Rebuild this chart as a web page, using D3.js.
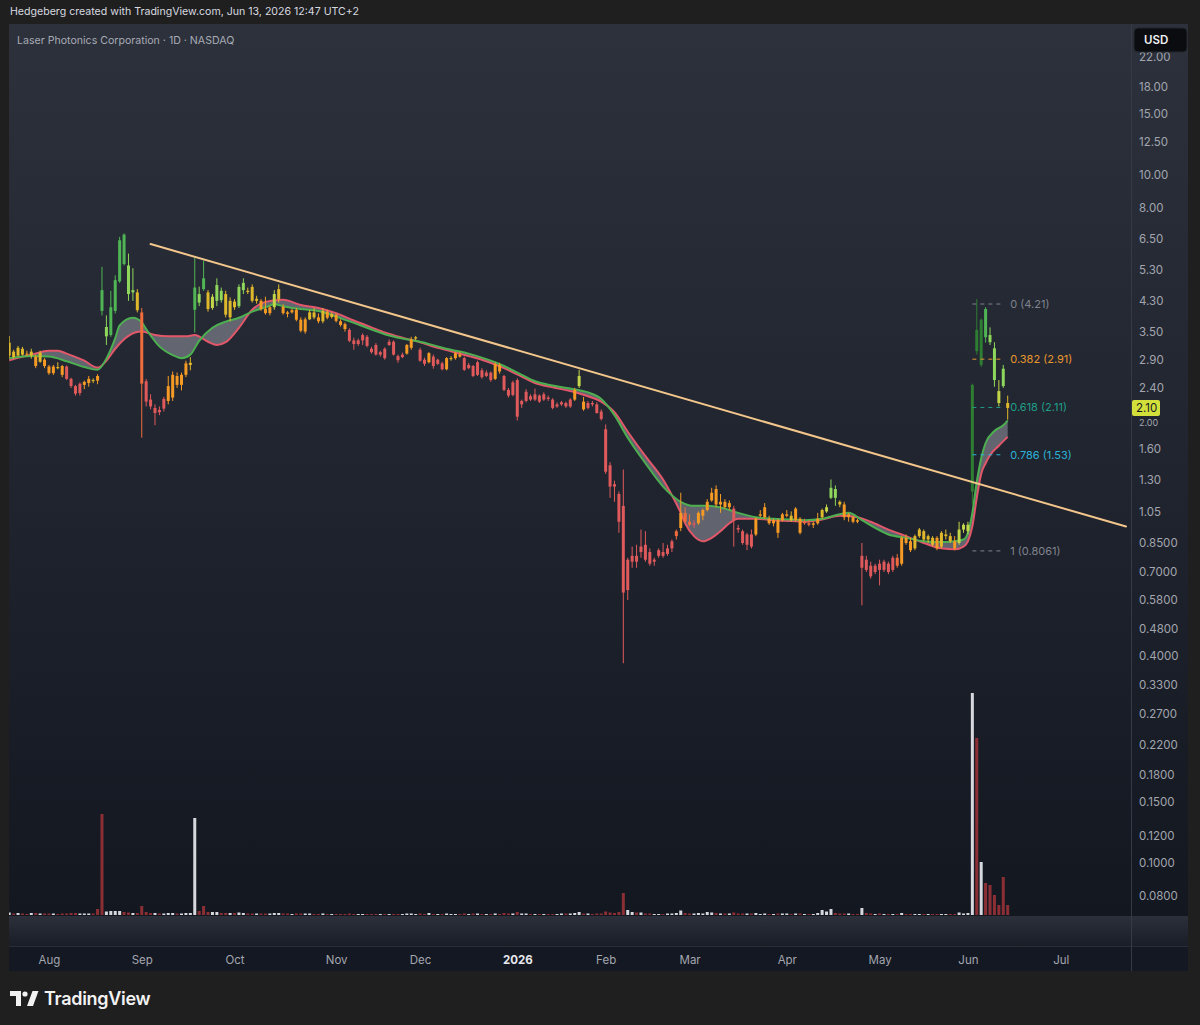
<!DOCTYPE html>
<html>
<head>
<meta charset="utf-8">
<script src="https://cdn.jsdelivr.net/npm/d3@7"></script>
<style>
  html, body { margin: 0; padding: 0; background: #1f1f1f; }
  svg { display: block; font-family: Inter, 'Noto Sans', sans-serif; }
</style>
</head>
<body>
<svg id="chart" width="1200" height="1025"></svg>
<script>
// daily bars, one row per trading day: [open, high, low, close, volume (M), tone]
const jul25 = [
  [2.98, 3.40, 2.93, 3.25, 0.5, 3], [3.06, 3.10, 2.92, 2.95, 0.3, 3], [2.98, 3.18, 2.96, 3.14, 0.4, 3],
  [3.12, 3.16, 2.98, 3.00, 0.3, 3], [3.02, 3.08, 2.97, 3.00, 0.2, 2], [2.98, 3.12, 2.92, 3.06, 0.4, 3],
  [2.96, 3.00, 2.74, 2.78, 0.4, 2], [2.86, 3.08, 2.84, 3.04, 0.3, 3], [2.90, 2.93, 2.74, 2.78, 0.3, 2]
]
const aug25 = [
  [2.77, 2.80, 2.62, 2.65, 0.3, 2], [2.65, 2.80, 2.62, 2.77, 0.3, 2], [2.76, 2.85, 2.72, 2.74, 0.2, 3],
  [2.78, 2.80, 2.58, 2.62, 0.3, 2], [2.77, 2.79, 2.53, 2.55, 0.3, 0], [2.55, 2.57, 2.40, 2.43, 0.4, 0],
  [2.43, 2.45, 2.28, 2.31, 0.4, 0], [2.32, 2.49, 2.28, 2.47, 0.3, 0], [2.45, 2.52, 2.38, 2.50, 0.3, 2],
  [2.48, 2.60, 2.42, 2.55, 0.3, 2], [2.53, 2.56, 2.48, 2.52, 0.3, 3], [2.60, 2.63, 2.46, 2.52, 1.2, 2],
  [4.62, 5.40, 3.90, 4.02, 20.2, 6], [3.39, 3.90, 3.20, 3.61, 0.7, 5], [3.42, 4.60, 3.38, 4.12, 0.8, 6],
  [4.02, 5.10, 3.95, 4.94, 0.8, 6], [4.90, 6.60, 4.85, 6.45, 0.8, 6], [6.70, 6.75, 5.45, 5.50, 0.6, 6],
  [5.45, 5.90, 4.30, 4.50, 0.5, 5], [4.55, 5.35, 4.30, 4.62, 0.4, 5], [4.55, 4.65, 3.98, 4.04, 0.4, 3]
]
const sep25 = [
  [3.98, 4.10, 1.72, 2.47, 1.8, 1], [2.51, 2.55, 2.12, 2.19, 0.6, 0], [2.22, 2.30, 2.08, 2.12, 0.4, 0],
  [2.03, 2.15, 1.87, 2.10, 0.4, 0], [2.07, 2.12, 2.00, 2.04, 0.3, 0], [2.09, 2.26, 2.05, 2.23, 0.3, 0],
  [2.20, 2.60, 2.15, 2.43, 0.4, 2], [2.25, 2.68, 2.20, 2.62, 0.4, 2], [2.60, 2.66, 2.40, 2.45, 0.3, 2],
  [2.45, 2.66, 2.36, 2.62, 0.3, 2], [2.62, 2.88, 2.58, 2.83, 0.4, 2], [2.80, 2.95, 2.70, 2.84, 0.4, 3],
  [4.05, 5.75, 3.48, 4.70, 19.4, 6], [4.50, 4.73, 4.15, 4.25, 0.8, 5], [5.00, 5.63, 4.60, 4.65, 1.8, 6],
  [4.55, 4.62, 4.00, 4.07, 0.6, 3], [4.10, 4.50, 4.05, 4.42, 0.6, 4], [4.30, 5.00, 4.15, 4.78, 0.6, 5],
  [4.60, 4.70, 4.25, 4.32, 0.4, 5], [4.50, 4.60, 3.85, 3.92, 0.4, 3], [3.85, 4.40, 3.75, 4.30, 0.4, 3]
]
const oct25 = [
  [4.28, 4.35, 4.05, 4.12, 0.4, 3], [4.15, 4.80, 4.10, 4.72, 0.5, 5], [4.62, 5.00, 4.50, 4.85, 0.4, 5],
  [4.60, 4.70, 4.50, 4.56, 0.3, 3], [4.72, 4.80, 4.25, 4.30, 0.3, 3], [4.30, 4.45, 4.22, 4.36, 0.3, 3],
  [4.30, 4.35, 4.02, 4.07, 0.3, 2], [4.08, 4.42, 3.92, 3.96, 0.3, 2], [3.96, 4.15, 3.90, 4.12, 0.3, 2],
  [4.12, 4.62, 4.05, 4.50, 0.4, 4], [4.35, 4.80, 4.25, 4.65, 0.4, 3], [4.13, 4.20, 3.92, 3.96, 0.3, 2],
  [3.98, 4.02, 3.85, 3.94, 0.3, 2], [3.98, 4.08, 3.95, 4.04, 0.2, 2], [4.05, 4.10, 3.75, 3.79, 0.3, 2],
  [3.79, 3.85, 3.48, 3.52, 0.3, 2], [3.50, 3.85, 3.45, 3.80, 0.3, 2], [3.80, 4.05, 3.78, 3.98, 0.3, 3],
  [3.98, 4.10, 3.80, 3.85, 0.2, 3], [3.85, 3.95, 3.70, 3.75, 0.2, 2], [3.75, 4.10, 3.70, 4.02, 0.3, 3],
  [4.00, 4.05, 3.80, 3.84, 0.2, 2], [3.86, 3.98, 3.82, 3.94, 0.2, 3]
]
const nov25 = [
  [3.92, 3.96, 3.72, 3.76, 0.2, 2], [3.75, 3.80, 3.62, 3.66, 0.2, 2], [3.68, 3.72, 3.50, 3.56, 0.2, 2],
  [3.54, 3.58, 3.26, 3.29, 0.3, 0], [3.30, 3.36, 3.10, 3.22, 0.2, 0], [3.22, 3.34, 3.18, 3.30, 0.2, 0],
  [3.30, 3.46, 3.20, 3.42, 0.2, 0], [3.38, 3.42, 3.15, 3.18, 0.2, 0], [3.12, 3.16, 3.02, 3.05, 0.2, 0],
  [3.20, 3.24, 2.98, 3.00, 0.2, 0], [3.00, 3.08, 2.96, 3.05, 0.2, 0], [3.12, 3.15, 2.90, 2.93, 0.2, 0],
  [3.20, 3.32, 3.18, 3.27, 0.2, 0], [3.27, 3.30, 2.98, 3.00, 0.2, 0], [2.97, 3.00, 2.84, 2.89, 0.2, 0],
  [2.95, 3.04, 2.93, 3.00, 0.2, 0], [3.02, 3.22, 3.00, 3.20, 0.3, 2], [3.14, 3.38, 3.10, 3.32, 0.3, 2],
  [3.34, 3.40, 3.30, 3.37, 0.2, 3]
]
const dec25 = [
  [3.10, 3.14, 2.86, 2.88, 0.3, 0], [2.90, 2.94, 2.78, 2.82, 0.2, 0], [2.85, 3.05, 2.83, 3.03, 0.4, 2],
  [2.96, 3.00, 2.73, 2.78, 0.2, 0], [2.82, 2.92, 2.80, 2.90, 0.2, 0], [2.83, 2.86, 2.70, 2.72, 0.2, 0],
  [2.72, 2.95, 2.70, 2.93, 0.3, 2], [2.91, 2.97, 2.88, 2.93, 0.2, 3], [2.93, 3.06, 2.90, 3.03, 0.2, 2],
  [3.00, 3.06, 2.94, 2.96, 0.2, 2], [2.93, 2.96, 2.69, 2.71, 0.3, 0], [2.74, 2.84, 2.72, 2.80, 0.2, 0],
  [2.78, 2.80, 2.58, 2.60, 0.3, 0], [2.62, 2.88, 2.60, 2.85, 0.3, 0], [2.70, 2.74, 2.55, 2.58, 0.2, 0],
  [2.60, 2.70, 2.58, 2.66, 0.2, 0], [2.66, 2.68, 2.50, 2.53, 0.2, 0], [2.55, 2.85, 2.53, 2.82, 0.3, 2],
  [2.80, 2.84, 2.64, 2.68, 0.2, 2], [2.60, 2.62, 2.35, 2.37, 0.4, 0], [2.37, 2.40, 2.25, 2.28, 0.3, 0],
  [2.29, 2.52, 2.27, 2.49, 0.3, 0]
]
const jan26 = [
  [2.53, 2.56, 1.93, 1.98, 0.6, 0], [2.15, 2.22, 2.10, 2.20, 0.3, 0], [2.20, 2.38, 2.18, 2.34, 0.3, 0],
  [2.27, 2.30, 2.20, 2.22, 0.2, 0], [2.22, 2.39, 2.20, 2.30, 0.2, 0], [2.28, 2.30, 2.17, 2.19, 0.2, 0],
  [2.22, 2.33, 2.20, 2.30, 0.2, 0], [2.25, 2.28, 2.20, 2.23, 0.2, 0], [2.22, 2.24, 2.08, 2.10, 0.2, 0],
  [2.12, 2.18, 2.10, 2.15, 0.2, 0], [2.15, 2.20, 2.13, 2.18, 0.3, 0], [2.17, 2.19, 2.10, 2.12, 0.3, 0],
  [2.12, 2.24, 2.10, 2.22, 0.3, 0], [2.22, 2.40, 2.20, 2.37, 0.4, 2], [2.43, 2.71, 2.40, 2.60, 0.6, 4],
  [2.19, 2.26, 2.06, 2.08, 0.3, 2], [2.10, 2.20, 2.08, 2.17, 0.3, 0], [2.17, 2.20, 2.12, 2.15, 0.2, 0],
  [2.15, 2.18, 2.02, 2.03, 0.3, 0], [2.05, 2.08, 1.93, 1.95, 0.3, 0]
]
const feb26 = [
  [1.82, 1.88, 1.35, 1.37, 0.7, 0], [1.43, 1.46, 1.15, 1.24, 0.5, 0], [1.26, 1.29, 1.12, 1.24, 0.4, 0],
  [1.18, 1.20, 0.91, 0.98, 0.6, 0], [1.09, 1.39, 0.38, 0.61, 4.4, 0], [0.62, 0.77, 0.58, 0.76, 1.0, 0],
  [0.75, 0.83, 0.72, 0.78, 0.6, 0], [0.78, 0.84, 0.72, 0.75, 0.5, 0], [0.80, 0.93, 0.77, 0.83, 0.5, 0],
  [0.84, 0.92, 0.75, 0.76, 0.3, 0], [0.80, 0.82, 0.73, 0.74, 0.3, 0], [0.75, 0.77, 0.73, 0.76, 0.2, 0],
  [0.78, 0.82, 0.77, 0.81, 0.2, 0], [0.80, 0.85, 0.77, 0.78, 0.2, 0], [0.79, 0.84, 0.78, 0.82, 0.3, 0],
  [0.82, 0.87, 0.80, 0.86, 0.3, 0], [0.89, 0.93, 0.87, 0.92, 0.4, 1], [0.94, 1.19, 0.92, 1.04, 0.9, 2],
  [1.04, 1.08, 0.97, 0.98, 0.4, 1]
]
const mar26 = [
  [0.98, 1.03, 0.95, 0.96, 0.3, 1], [0.96, 0.99, 0.94, 0.97, 0.3, 0], [0.97, 1.05, 0.96, 1.04, 0.4, 2],
  [1.02, 1.07, 0.99, 1.06, 0.3, 2], [1.06, 1.14, 1.05, 1.12, 0.6, 2], [1.13, 1.23, 1.12, 1.19, 0.5, 2],
  [1.22, 1.25, 1.08, 1.10, 0.4, 2], [1.10, 1.18, 1.04, 1.12, 0.3, 2], [1.12, 1.14, 1.07, 1.08, 0.3, 2],
  [1.08, 1.13, 1.06, 1.11, 0.3, 2], [1.07, 1.09, 0.83, 0.99, 0.5, 0], [0.94, 0.96, 0.91, 0.93, 0.3, 0],
  [0.92, 0.93, 0.84, 0.85, 0.3, 0], [0.84, 0.91, 0.81, 0.90, 0.3, 0], [0.90, 0.93, 0.82, 0.83, 0.3, 0],
  [0.90, 1.01, 0.89, 1.00, 0.4, 2], [1.02, 1.06, 1.01, 1.03, 0.2, 2], [1.01, 1.11, 1.00, 1.08, 0.3, 2],
  [1.00, 1.02, 0.96, 0.97, 0.2, 2], [0.97, 1.00, 0.95, 0.99, 0.2, 2], [0.99, 1.00, 0.88, 0.91, 0.3, 2],
  [0.99, 1.04, 0.98, 1.03, 0.3, 2]
]
const apr26 = [
  [1.02, 1.06, 1.01, 1.03, 0.3, 2], [1.02, 1.05, 0.98, 0.99, 0.2, 3], [0.99, 1.08, 0.98, 1.07, 0.3, 2],
  [1.00, 1.01, 0.90, 0.91, 0.3, 2], [0.97, 1.00, 0.96, 0.98, 0.2, 1], [0.97, 0.99, 0.95, 0.96, 0.2, 1],
  [0.96, 0.98, 0.94, 0.97, 0.2, 2], [0.97, 1.04, 0.96, 1.00, 0.4, 2], [1.01, 1.07, 1.00, 1.06, 1.0, 3],
  [1.05, 1.10, 1.04, 1.08, 0.7, 4], [1.15, 1.30, 1.14, 1.23, 1.2, 5], [1.22, 1.25, 1.09, 1.15, 0.4, 5],
  [1.12, 1.13, 1.08, 1.10, 0.3, 3], [1.10, 1.12, 0.99, 1.01, 0.3, 2], [1.01, 1.04, 0.98, 1.03, 0.3, 2],
  [1.01, 1.02, 0.97, 0.98, 0.2, 2], [0.99, 1.00, 0.97, 0.98, 0.2, 2], [0.72, 0.85, 0.56, 0.78, 1.4, 0],
  [0.76, 0.78, 0.70, 0.71, 0.4, 0], [0.73, 0.75, 0.67, 0.68, 0.3, 0], [0.70, 0.74, 0.69, 0.73, 0.2, 0]
]
const may26 = [
  [0.74, 0.76, 0.64, 0.71, 0.3, 0], [0.71, 0.76, 0.70, 0.75, 0.2, 0], [0.74, 0.75, 0.69, 0.70, 0.2, 0],
  [0.71, 0.78, 0.70, 0.77, 0.2, 0], [0.77, 0.79, 0.72, 0.73, 0.2, 1], [0.74, 0.89, 0.73, 0.88, 0.4, 2],
  [0.88, 0.90, 0.84, 0.85, 0.2, 2], [0.86, 0.88, 0.80, 0.81, 0.2, 2], [0.82, 0.90, 0.81, 0.89, 0.2, 3],
  [0.89, 0.94, 0.88, 0.93, 0.2, 3], [0.92, 0.93, 0.86, 0.87, 0.2, 3], [0.87, 0.90, 0.85, 0.89, 0.2, 3],
  [0.88, 0.89, 0.83, 0.84, 0.2, 3], [0.88, 0.89, 0.81, 0.82, 0.2, 2], [0.83, 0.92, 0.82, 0.91, 0.2, 3],
  [0.89, 0.93, 0.87, 0.90, 0.2, 3], [0.89, 0.91, 0.85, 0.86, 0.2, 3], [0.86, 0.89, 0.81, 0.82, 0.2, 2],
  [0.85, 0.98, 0.84, 0.93, 0.5, 4], [0.93, 0.97, 0.91, 0.96, 0.3, 4]
]
const jun26 = [
  [0.92, 0.98, 0.90, 0.96, 0.4, 4], [1.20, 2.47, 1.10, 2.45, 44.4, 7], [3.54, 4.35, 3.00, 3.07, 35.4, 7],
  [2.80, 3.82, 2.76, 3.79, 10.6, 7], [4.07, 4.12, 3.25, 3.37, 6.4, 6], [3.42, 3.60, 3.20, 3.26, 6.0, 5],
  [3.13, 3.26, 2.42, 2.53, 4.0, 5], [2.35, 2.53, 2.12, 2.17, 2.0, 4], [2.73, 2.80, 2.40, 2.43, 7.6, 5],
  [2.17, 2.28, 1.94, 2.10, 2.0, 3]
]

// market holidays, used to build the trading day axis
const holidays = [
  '2025-09-01', '2025-11-27', '2025-12-25', '2026-01-01', '2026-01-19',
  '2026-02-16', '2026-04-03', '2026-05-25', '2026-06-19', '2026-07-03'
]

// moving averages
const greenMa = [
  ['2025-07-21', 2.93], ['2025-07-28', 2.97], ['2025-08-01', 2.96], ['2025-08-07', 2.87], ['2025-08-13', 2.76],
  ['2025-08-18', 2.71], ['2025-08-20', 2.92], ['2025-08-22', 3.35], ['2025-08-25', 3.65], ['2025-08-28', 3.84],
  ['2025-09-02', 3.72], ['2025-09-03', 3.56], ['2025-09-08', 3.17], ['2025-09-11', 2.99], ['2025-09-15', 2.93],
  ['2025-09-17', 3.00], ['2025-09-19', 3.29], ['2025-09-24', 3.59], ['2025-09-29', 3.74], ['2025-10-02', 3.84],
  ['2025-10-07', 4.00], ['2025-10-10', 4.12], ['2025-10-14', 4.20], ['2025-10-16', 4.15], ['2025-10-22', 4.07],
  ['2025-10-28', 4.02], ['2025-11-03', 3.87], ['2025-11-07', 3.71], ['2025-11-13', 3.55], ['2025-11-18', 3.44],
  ['2025-11-24', 3.34], ['2025-12-01', 3.27], ['2025-12-05', 3.17], ['2025-12-10', 3.10], ['2025-12-16', 3.02],
  ['2025-12-22', 2.91], ['2025-12-29', 2.78], ['2026-01-05', 2.62], ['2026-01-08', 2.51], ['2026-01-14', 2.44],
  ['2026-01-21', 2.39], ['2026-01-27', 2.33], ['2026-01-30', 2.23], ['2026-02-04', 2.00], ['2026-02-09', 1.72],
  ['2026-02-13', 1.45], ['2026-02-20', 1.24], ['2026-02-26', 1.12], ['2026-03-03', 1.09], ['2026-03-06', 1.09],
  ['2026-03-12', 1.07], ['2026-03-17', 1.04], ['2026-03-23', 1.01], ['2026-03-27', 1.00], ['2026-04-02', 0.995],
  ['2026-04-08', 0.99], ['2026-04-14', 1.00], ['2026-04-20', 1.03], ['2026-04-22', 1.04], ['2026-04-27', 0.99],
  ['2026-04-30', 0.94], ['2026-05-05', 0.90], ['2026-05-11', 0.88], ['2026-05-15', 0.86], ['2026-05-21', 0.855],
  ['2026-05-27', 0.86], ['2026-05-29', 0.87], ['2026-06-01', 0.91], ['2026-06-02', 1.04], ['2026-06-03', 1.28],
  ['2026-06-04', 1.50], ['2026-06-05', 1.66], ['2026-06-09', 1.80], ['2026-06-11', 1.87], ['2026-06-12', 1.93]
]
const redMa = [
  ['2025-07-21', 2.89], ['2025-07-28', 3.00], ['2025-08-01', 3.08], ['2025-08-05', 3.08], ['2025-08-07', 3.02],
  ['2025-08-13', 2.88], ['2025-08-18', 2.75], ['2025-08-20', 2.88], ['2025-08-22', 3.12], ['2025-08-27', 3.40],
  ['2025-09-02', 3.50], ['2025-09-05', 3.42], ['2025-09-10', 3.39], ['2025-09-16', 3.39], ['2025-09-18', 3.42],
  ['2025-09-23', 3.27], ['2025-09-25', 3.20], ['2025-09-29', 3.26], ['2025-10-02', 3.59], ['2025-10-07', 4.05],
  ['2025-10-10', 4.27], ['2025-10-16', 4.33], ['2025-10-22', 4.18], ['2025-10-28', 4.10], ['2025-11-03', 3.96],
  ['2025-11-07', 3.77], ['2025-11-13', 3.60], ['2025-11-18', 3.48], ['2025-11-24', 3.36], ['2025-12-01', 3.26],
  ['2025-12-05', 3.14], ['2025-12-10', 3.07], ['2025-12-16', 2.97], ['2025-12-22', 2.87], ['2025-12-29', 2.74],
  ['2026-01-05', 2.59], ['2026-01-08', 2.48], ['2026-01-14', 2.41], ['2026-01-21', 2.35], ['2026-01-27', 2.27],
  ['2026-01-30', 2.19], ['2026-02-04', 2.04], ['2026-02-09', 1.79], ['2026-02-13', 1.52], ['2026-02-20', 1.30],
  ['2026-02-24', 1.17], ['2026-02-26', 1.04], ['2026-02-27', 0.97], ['2026-03-03', 0.89], ['2026-03-05', 0.86],
  ['2026-03-09', 0.88], ['2026-03-11', 0.92], ['2026-03-13', 0.97], ['2026-03-17', 1.00], ['2026-03-23', 1.00],
  ['2026-03-27', 0.99], ['2026-04-02', 0.985], ['2026-04-08', 0.98], ['2026-04-14', 0.995], ['2026-04-20', 1.02],
  ['2026-04-24', 1.01], ['2026-04-29', 0.98], ['2026-05-05', 0.93], ['2026-05-08', 0.90], ['2026-05-15', 0.85],
  ['2026-05-21', 0.82], ['2026-05-27', 0.815], ['2026-05-29', 0.83], ['2026-06-01', 0.86], ['2026-06-02', 0.95],
  ['2026-06-03', 1.15], ['2026-06-04', 1.35], ['2026-06-05', 1.45], ['2026-06-08', 1.53], ['2026-06-10', 1.63],
  ['2026-06-12', 1.73]
]

const priceTicks = [22, 18, 15, 12.5, 10, 8, 6.5, 5.3, 4.3, 3.5, 2.9, 2.4, 2.0, 1.6, 1.3, 1.05,
  0.85, 0.70, 0.58, 0.48, 0.40, 0.33, 0.27, 0.22, 0.18, 0.15, 0.12, 0.10, 0.08]
const monthTicks = [
  ['2025-08-01', 'Aug'], ['2025-09-02', 'Sep'], ['2025-10-01', 'Oct'], ['2025-11-03', 'Nov'],
  ['2025-12-01', 'Dec'], ['2026-01-02', '2026'], ['2026-02-02', 'Feb'], ['2026-03-02', 'Mar'],
  ['2026-04-01', 'Apr'], ['2026-05-01', 'May'], ['2026-06-01', 'Jun'], ['2026-07-01', 'Jul']
]
const trendAnchors = [['2025-09-04', 6.29], ['2026-01-23', 2.74]]
const fibLevels = [0, 0.382, 0.618, 0.786, 1]
const fibHigh = 4.21
const fibLow = 0.8061
const fibSpan = ['2026-06-02', '2026-06-11']

const tones = ['#e05a5c', '#f06c3c', '#f59a24', '#dfb82c', '#c3d649', '#8ed65c', '#50b554', '#2e7d32']
const fibColors = ['#80838d', '#e8962e', '#1f9e88', '#2cb2d6', '#80838d']

const svg = d3.select('#chart')
const panel = { left: 9, top: 24, right: 1188, bottom: 971 }
const plot = { left: 9, right: 1131, top: 24, bottom: 916 }
const band = { top: 916, bottom: 946 }

const fmtDay = d3.utcFormat('%Y-%m-%d')
const off = new Set(holidays)
const calendar = d3.utcDay
  .range(new Date(Date.UTC(2025, 6, 21)), new Date(Date.UTC(2026, 7, 1)))
  .filter(d => d.getUTCDay() % 6 !== 0)
  .map(fmtDay)
  .filter(d => !off.has(d))
const slot = new Map(calendar.map((d, i) => [d, i]))

const bars = [jul25, aug25, sep25, oct25, nov25, dec25, jan26, feb26, mar26, apr26, may26, jun26]
  .flat()
  .map((r, i) => ({ i, date: calendar[i], open: r[0], high: r[1], low: r[2], close: r[3], volume: r[4], tone: r[5] }))

const x = d3.scaleLinear().domain([0, 254]).range([9.2, 1131.4])
const y = d3.scaleLog().domain([0.08, 22]).range([896, 57])
const yVol = d3.scaleLinear().domain([0, 60]).range([915, 615])

const fmtPrice = v => (v >= 1 ? v.toFixed(2) : v.toFixed(4))
const last = bars[bars.length - 1]
const tagTop = y(last.close) - 8
const tagBottom = y(last.close) + 8

// backgrounds
const defs = svg.append('defs')
const bg = defs.append('linearGradient').attr('id', 'bg').attr('x1', 0).attr('y1', 0).attr('x2', 0).attr('y2', 1)
bg.append('stop').attr('offset', '0%').attr('stop-color', '#2c313c')
bg.append('stop').attr('offset', '55%').attr('stop-color', '#1f232d')
bg.append('stop').attr('offset', '100%').attr('stop-color', '#131720')
const bandGrad = defs.append('linearGradient').attr('id', 'band').attr('x1', 0).attr('y1', 0).attr('x2', 0).attr('y2', 1)
bandGrad.append('stop').attr('offset', '0%').attr('stop-color', '#2b303b')
bandGrad.append('stop').attr('offset', '100%').attr('stop-color', '#191d26')
defs.append('clipPath').attr('id', 'plotClip')
  .append('rect')
  .attr('x', plot.left).attr('y', plot.top)
  .attr('width', plot.right - plot.left).attr('height', plot.bottom - plot.top)

svg.append('rect')
  .attr('x', panel.left).attr('y', panel.top)
  .attr('width', panel.right - panel.left).attr('height', band.top - panel.top)
  .attr('fill', 'url(#bg)')
svg.append('rect')
  .attr('x', panel.left).attr('y', band.top)
  .attr('width', panel.right - panel.left).attr('height', band.bottom - band.top)
  .attr('fill', 'url(#band)')
svg.append('rect')
  .attr('x', panel.left).attr('y', band.bottom)
  .attr('width', panel.right - panel.left).attr('height', panel.bottom - band.bottom)
  .attr('fill', '#141822')
svg.append('line')
  .attr('x1', panel.left).attr('x2', panel.right)
  .attr('y1', band.bottom + 0.5).attr('y2', band.bottom + 0.5)
  .attr('stroke', '#2a2e39')
svg.append('line')
  .attr('x1', plot.right + 0.5).attr('x2', plot.right + 0.5)
  .attr('y1', panel.top).attr('y2', panel.bottom)
  .attr('stroke', '#363a45')

const g = svg.append('g').attr('clip-path', 'url(#plotClip)')

// volume
g.append('g').selectAll('rect')
  .data(bars)
  .join('rect')
  .attr('x', d => x(d.i) - 1.5)
  .attr('width', 3)
  .attr('y', d => yVol(d.volume))
  .attr('height', d => yVol(0) - yVol(d.volume))
  .attr('fill', d => (d.close < d.open ? '#8c2f35' : '#d6d8de'))

// moving averages with the band between them
const maLine = d3.line()
  .x(d => x(slot.get(d[0])))
  .y(d => y(d[1]))
  .curve(d3.curveMonotoneX)
const upper = maLine(greenMa)
const lower = maLine(redMa.slice().reverse())
g.append('path')
  .attr('d', upper + 'L' + lower.slice(1) + 'Z')
  .attr('fill', '#7b7e88')
  .attr('fill-opacity', 0.72)
g.append('path').attr('d', maLine(redMa)).attr('fill', 'none').attr('stroke', '#e2576a').attr('stroke-width', 2)
g.append('path').attr('d', upper).attr('fill', 'none').attr('stroke', '#4caf50').attr('stroke-width', 2)

// candles
const candles = g.append('g').selectAll('g').data(bars).join('g')
candles.append('line')
  .attr('x1', d => x(d.i)).attr('x2', d => x(d.i))
  .attr('y1', d => y(d.high)).attr('y2', d => y(d.low))
  .attr('stroke', d => tones[d.tone])
  .attr('stroke-width', 1)
candles.append('rect')
  .attr('x', d => x(d.i) - 1.5)
  .attr('width', 3)
  .attr('y', d => y(Math.max(d.open, d.close)))
  .attr('height', d => Math.max(1, Math.abs(y(d.open) - y(d.close))))
  .attr('fill', d => tones[d.tone])

// trend line, extended to the right edge
const t0 = [x(slot.get(trendAnchors[0][0])), y(trendAnchors[0][1])]
const t1 = [x(slot.get(trendAnchors[1][0])), y(trendAnchors[1][1])]
const tEndX = plot.right - 5
const tEndY = t0[1] + (tEndX - t0[0]) * (t1[1] - t0[1]) / (t1[0] - t0[0])
g.append('line')
  .attr('x1', t0[0]).attr('y1', t0[1])
  .attr('x2', tEndX).attr('y2', tEndY)
  .attr('stroke', '#f3c68c')
  .attr('stroke-width', 2)
  .attr('stroke-linecap', 'round')

// fibonacci retracement
const fx0 = x(slot.get(fibSpan[0]))
const fx1 = x(slot.get(fibSpan[1]))
const fibPrice = d => fibHigh - d * (fibHigh - fibLow)
const fib = g.append('g').selectAll('g').data(fibLevels).join('g')
fib.append('line')
  .attr('x1', fx0).attr('x2', fx1)
  .attr('y1', d => y(fibPrice(d)))
  .attr('y2', d => y(fibPrice(d)))
  .attr('stroke', (d, i) => fibColors[i])
  .attr('stroke-dasharray', '4,4')
fib.append('text')
  .attr('x', fx1 + 7)
  .attr('y', d => y(fibPrice(d)))
  .attr('dy', '0.35em')
  .attr('fill', (d, i) => fibColors[i])
  .attr('font-size', 11)
  .text(d => `${d} (${fmtPrice(fibPrice(d))})`)

// price axis; the part hidden behind the last price tag is clipped away
const axisClip = defs.append('clipPath').attr('id', 'axisClip')
axisClip.append('rect').attr('x', 0).attr('y', 0).attr('width', 70).attr('height', tagTop)
axisClip.append('rect').attr('x', 0).attr('y', tagBottom).attr('width', 70).attr('height', 1025 - tagBottom)
const axisY = d3.axisRight(y).tickValues(priceTicks).tickFormat(fmtPrice).tickSize(0).tickPadding(8)
const ay = svg.append('g')
  .attr('transform', `translate(${plot.right},0)`)
  .attr('clip-path', 'url(#axisClip)')
  .call(axisY)
ay.select('.domain').remove()
ay.selectAll('text').attr('fill', '#a3a6af').attr('font-size', 11.5).attr('font-family', 'Inter, sans-serif')
ay.selectAll('.tick')
  .filter(d => y(d) > tagTop - 6 && y(d) < tagBottom + 6)
  .select('text')
  .attr('font-size', 9)
  .attr('dy', '1.1em')

// last price tag
svg.append('rect')
  .attr('x', plot.right + 1).attr('y', tagTop)
  .attr('width', 28).attr('height', 16).attr('rx', 2)
  .attr('fill', '#d3e03c')
svg.append('text')
  .attr('x', plot.right + 5).attr('y', y(last.close))
  .attr('dy', '0.35em')
  .attr('font-size', 11.5)
  .attr('fill', '#131722')
  .text(last.close.toFixed(2))

// currency badge
svg.append('rect')
  .attr('x', 1134).attr('y', 28).attr('width', 53).attr('height', 24).attr('rx', 4)
  .attr('fill', '#0b0c0f').attr('stroke', '#23262e')
svg.append('text')
  .attr('x', 1144).attr('y', 40).attr('dy', '0.35em')
  .attr('font-size', 11.5).attr('font-weight', 600).attr('fill', '#f0f1f4')
  .text('USD')

// time axis
const axisX = d3.axisBottom(x)
  .tickValues(monthTicks.map(d => slot.get(d[0])))
  .tickFormat((d, i) => monthTicks[i][1])
  .tickSize(0)
  .tickPadding(0)
const ax = svg.append('g').attr('transform', `translate(0,${band.bottom + 10})`).call(axisX)
ax.select('.domain').remove()
ax.selectAll('text')
  .attr('font-size', 11.5)
  .attr('font-family', 'Inter, sans-serif')
  .attr('fill', d => (d === slot.get('2026-01-02') ? '#e6e8ee' : '#a3a6af'))
  .attr('font-weight', d => (d === slot.get('2026-01-02') ? 700 : 400))

// header, title and footer
svg.append('text')
  .attr('x', 10).attr('y', 15)
  .attr('font-size', 10.6).attr('fill', '#d8dae0')
  .text('Hedgeberg created with TradingView.com, Jun 13, 2026 12:47 UTC+2')
svg.append('text')
  .attr('x', 17).attr('y', 44)
  .attr('font-size', 10.6).attr('fill', '#a8abb4')
  .text('Laser Photonics Corporation · 1D · NASDAQ')

const logo = svg.append('g').attr('fill', '#f2f2f2')
logo.append('path').attr('d', 'M10,991 H21 V1006 H16 V996 H10 Z')
logo.append('circle').attr('cx', 25).attr('cy', 994).attr('r', 2.6)
logo.append('path').attr('d', 'M27,1006 L32.5,991 H38.5 L33,1006 Z')
svg.append('text')
  .attr('x', 44).attr('y', 1005)
  .attr('font-size', 18).attr('font-weight', 600).attr('fill', '#f2f2f2')
  .attr('letter-spacing', -0.3)
  .text('TradingView')
</script>
</body>
</html>
